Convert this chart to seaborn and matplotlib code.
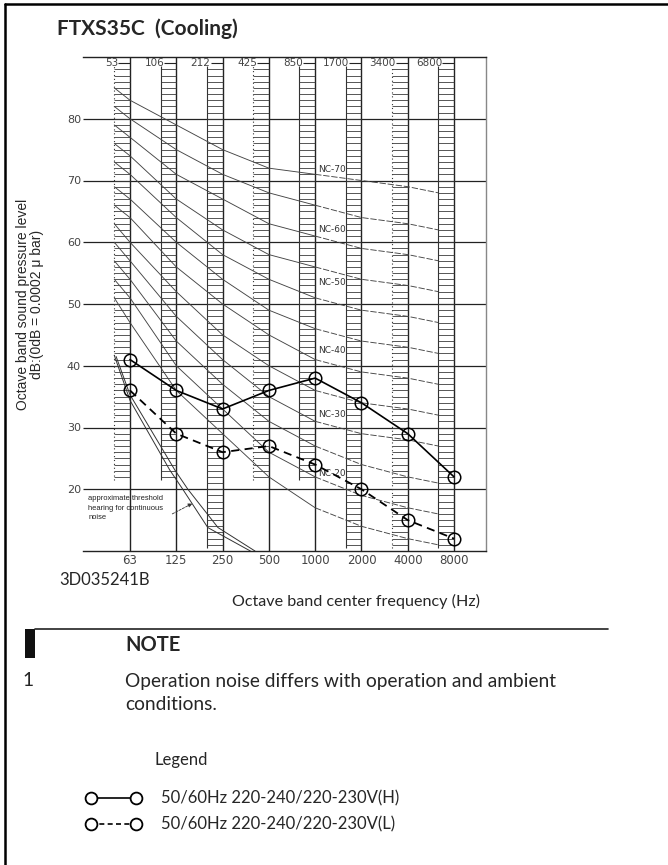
import numpy as np
import pandas as pd
import matplotlib
matplotlib.use('Agg')
import matplotlib.pyplot as plt
import seaborn as sns
from matplotlib.lines import Line2D
from matplotlib.patches import Rectangle

# octave bands
bands = ['63', '125', '250', '500', '1000', '2000', '4000', '8000']
band_edges = ['53', '106', '212', '425', '850', '1700', '3400', '6800']
pos = np.arange(len(bands))

# measured noise, dB
noise_h = [41, 36, 33, 36, 38, 34, 29, 22]
noise_l = [36, 29, 26, 27, 24, 20, 15, 12]

# NC curves: start edge, 63 ... 4000, end edge
nc_names = ['NC-70', 'NC-65', 'NC-60', 'NC-55', 'NC-50', 'NC-45',
            'NC-40', 'NC-35', 'NC-30', 'NC-25', 'NC-20', 'NC-15']
nc_levels = [
    [85, 83, 79, 75, 72, 71, 70, 69, 68],
    [82, 80, 75, 71, 68, 66, 64, 63, 62],
    [79, 77, 71, 67, 63, 61, 59, 58, 57],
    [76, 74, 67, 62, 58, 56, 54, 53, 52],
    [73, 71, 64, 58, 54, 51, 49, 48, 47],
    [69, 67, 60, 54, 49, 46, 44, 43, 42],
    [66, 64, 56, 50, 45, 41, 39, 38, 37],
    [63, 60, 52, 45, 40, 36, 34, 33, 32],
    [60, 57, 48, 41, 35, 31, 29, 28, 27],
    [57, 54, 44, 37, 31, 27, 24, 22, 21],
    [54, 51, 40, 33, 26, 22, 19, 17, 16],
    [51, 47, 36, 29, 22, 17, 14, 12, 11],
]
nc_labelled = ['NC-70', 'NC-60', 'NC-50', 'NC-40', 'NC-30', 'NC-20']
nc_label_y = [71.8, 62.0, 53.5, 42.5, 32.1, 22.6]

# threshold of hearing (two traced lines)
thr_a_x = [-0.34, 0, 0.86, 1.14, 1.68, 2.6]
thr_a_y = [41.7, 34.4, 23.1, 20.0, 13.8, 10.0]
thr_b_x = [-0.30, 0, 0.97, 1.25, 1.9, 2.7]
thr_b_y = [41.5, 35.3, 23.1, 20.0, 13.8, 10.0]

W, H = 668, 865
def fx(px):
    return px / W
def fy(py):
    return 1 - py / H

sns.set_style('white')
plt.rcParams['font.family'] = ['DejaVu Sans']

fig = plt.figure(figsize=(W / 100, H / 100), dpi=100)
ax = fig.add_axes([fx(83), fy(551), fx(486) - fx(83), fy(57) - fy(551)])
x0, x1 = -1.015, 7.69
ax.set_xlim(x0, x1)
ax.set_ylim(10, 90)

lad_w = 0.34
lad_bottom = [22, 22, 11, 22, 22, 11, 11, 11]
dotted = [0, 3, 6]
ink = '#222222'

# horizontal grid
ax.hlines(range(20, 90, 10), x0, x1, color=ink, lw=0.9, zorder=1)

# ladders and centre lines
for i in pos:
    ax.vlines(i, 10, 90, color=ink, lw=1.0, zorder=1)
    ls = (0, (1, 2.5)) if i in dotted else '-'
    ax.vlines(i - lad_w, lad_bottom[i] - 0.5, 88.6, color='#333', lw=0.8, linestyles=ls, zorder=1)
    rungs = np.arange(lad_bottom[i], 89)
    ax.hlines(rungs, i - lad_w, i, color='#3a3a3a', lw=0.6, zorder=1)
    ax.text(i - 0.26, 88.95, band_edges[i], ha='right', va='center', fontsize=7.5, color='#444')
    ax.hlines(88.95, i - 0.26, i, color=ink, lw=0.8)

# NC curves
nc_x = [-lad_w] + list(range(7)) + [7 - lad_w]
for name, lev in zip(nc_names, nc_levels):
    ax.plot(nc_x[:6], lev[:6], color='#444', lw=0.65, zorder=2)
    ax.plot(nc_x[5:], lev[5:], color='#444', lw=0.65, dashes=(7, 2), zorder=2)
for name, yv in zip(nc_labelled, nc_label_y):
    ax.text(4.06, yv, name, ha='left', va='center', fontsize=6.5, color='#333')

# threshold lines
ax.plot(thr_a_x, thr_a_y, color='#333', lw=0.7)
ax.plot(thr_b_x, thr_b_y, color='#333', lw=0.7)
ax.text(-0.9, 19.0, 'approximate threshold\nhearing for continuous\nnoise', ha='left', va='top',
        fontsize=5.4, family=['Liberation Sans', 'DejaVu Sans'], linespacing=1.45, color='#222')
ax.annotate('', xy=(1.40, 17.9), xytext=(0.86, 15.8),
            arrowprops=dict(arrowstyle='-|>', lw=0.6, color='#333', linestyle=(0, (3, 1.5)),
                            mutation_scale=6))

# measured series
df_h = pd.DataFrame({'band': pos, 'level': noise_h})
df_l = pd.DataFrame({'band': pos, 'level': noise_l})
sns.lineplot(data=df_h, x='band', y='level', ax=ax, color='black', lw=1.2, marker='o', zorder=5)
sns.lineplot(data=df_l, x='band', y='level', ax=ax, color='black', lw=1.3, marker='o', zorder=5)
ax.lines[-1].set_dashes((4.5, 3))
for ln in ax.lines[-2:]:
    ln.set_markerfacecolor('none')
    ln.set_markeredgecolor('black')
    ln.set_markeredgewidth(1.1)
    ln.set_markersize(9)

# axes cosmetics
ax.set_xlabel('')
ax.set_ylabel('')
ax.set_xticks(pos)
ax.set_xticklabels(bands, fontsize=8.5, color='#444')
ax.set_yticks(range(20, 90, 10))
ax.set_yticklabels([str(v) for v in range(20, 90, 10)], fontsize=8, color='#444')
ax.tick_params(axis='both', length=0)
ax.tick_params(axis='x', pad=2.5)
ax.tick_params(axis='y', pad=1.5)
ax.spines['left'].set_visible(False)
for s in ['top', 'bottom']:
    ax.spines[s].set_color(ink)
    ax.spines[s].set_linewidth(1.0)
ax.spines['right'].set_color('#888')
ax.spines['right'].set_linewidth(1.0)
ax.grid(False)

# page texts
doc = ['Lato', 'DejaVu Sans']
fig.text(fx(57), fy(29), 'FTXS35C  (Cooling)', fontsize=15, fontweight='bold', family=doc,
         ha='left', va='center')
fig.text(fx(30), fy(304), 'Octave band sound pressure level\ndB:(0dB = 0.0002 \u03bc bar)',
         rotation=90, ha='center', va='center', fontsize=10, family=['Liberation Sans', 'DejaVu Sans'],
         linespacing=1.0)
fig.text(fx(59), fy(580), '3D035241B', fontsize=12, family=doc, ha='left', va='center')
fig.text(fx(356), fy(601), 'Octave band center frequency (Hz)', fontsize=11.6, family=doc,
         ha='center', va='center')

# note section
fig.add_artist(Rectangle((fx(25), fy(658)), fx(35) - fx(25), fy(629) - fy(658),
                         transform=fig.transFigure, color='#111', lw=0))
fig.add_artist(Line2D([fx(35), fx(608)], [fy(629), fy(629)], color='#222', lw=1.2))
fig.text(fx(125), fy(645), 'NOTE', fontsize=14.5, fontweight='bold', family=doc, ha='left', va='center')
fig.text(fx(22), fy(681), '1', fontsize=13.8, family=doc, ha='left', va='center')
fig.text(fx(125), fy(681), 'Operation noise differs with operation and ambient', fontsize=13.8,
         family=doc, ha='left', va='center')
fig.text(fx(125), fy(704), 'conditions.', fontsize=13.8, family=doc, ha='left', va='center')
fig.text(fx(155), fy(760), 'Legend', fontsize=12, family=doc, ha='left', va='center')

leg_labels = ['50/60Hz 220-240/220-230V(H)', '50/60Hz 220-240/220-230V(L)']
leg_y = [798, 824]
leg_style = ['-', (0, (3, 2))]
for lab, yy, st in zip(leg_labels, leg_y, leg_style):
    fig.add_artist(Line2D([fx(91), fx(136)], [fy(yy), fy(yy)], color='black', lw=1.2, linestyle=st,
                          marker='o', ms=8.5, mfc='white', mec='black', mew=1.3))
    fig.text(fx(161), fy(yy), lab, fontsize=12, family=doc, ha='left', va='center')

# page border
fig.add_artist(Line2D([fx(5), 1], [fy(4), fy(4)], color='black', lw=1.8))
fig.add_artist(Line2D([fx(5.3), fx(5.3)], [fy(4), 0], color='black', lw=1.8))

fig.savefig('out.png', dpi=100)
